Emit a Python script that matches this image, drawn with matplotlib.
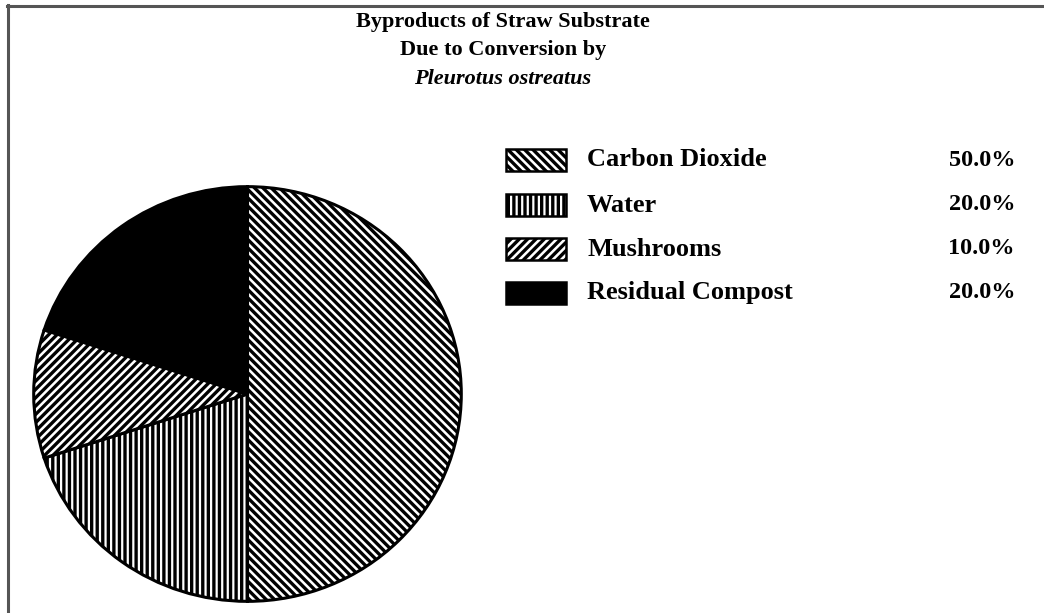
import matplotlib
matplotlib.use("Agg")
import matplotlib.pyplot as plt
from matplotlib.patches import Rectangle
from matplotlib.lines import Line2D

# ---- data ----
title_lines = ["Byproducts of Straw Substrate", "Due to Conversion by", "Pleurotus ostreatus"]
categories = ["Carbon Dioxide", "Water", "Mushrooms", "Residual Compost"]
values = [50.0, 20.0, 10.0, 20.0]

# ---- styles ----
hatches = ["\\\\\\\\", "|||", "////", ""]
facecolors = ["white", "white", "white", "black"]

plt.rcParams["hatch.linewidth"] = 2.4
plt.rcParams["hatch.color"] = "black"
SERIF = ["Liberation Serif", "DejaVu Serif"]

W, H = 1044, 613
fig = plt.figure(figsize=(W / 100, H / 100), dpi=100)
fig.patch.set_facecolor("white")

# pie axes (slightly elliptical like the reference)
cx, cy, rx, ry = 247.5, 394, 215.5, 209
ax = fig.add_axes([(cx - rx) / W, 1 - (cy + ry) / H, 2 * rx / W, 2 * ry / H])
wedges, _ = ax.pie(values, startangle=90, counterclock=False, radius=1.0,
                   colors=facecolors, hatch=hatches,
                   wedgeprops=dict(edgecolor="black", linewidth=2.2))
ax.set_aspect("auto")
ax.set_xlim(-1.008, 1.008)
ax.set_ylim(-1.008, 1.008)
ax.axis("off")

# overlay axes in pixel coordinates for title, legend and frame
ov = fig.add_axes([0, 0, 1, 1], zorder=-1)
ov.set_xlim(0, W)
ov.set_ylim(H, 0)
ov.axis("off")

# frame lines (top and left)
ov.add_line(Line2D([7, W], [5.5, 5.5], color="#555555", lw=2.2))
ov.add_line(Line2D([7.5, 7.5], [5, H], color="#555555", lw=2.2))

# title
ty = [22, 50, 79]
for i, (t, y) in enumerate(zip(title_lines, ty)):
    ov.text(503, y, t, ha="center", va="center", fontsize=16,
            fontweight="bold", fontstyle="italic" if i == 2 else "normal",
            family=SERIF)

# legend
total = sum(values)
row_y = [160, 205, 249, 293]
for cat, v, h, fc, y in zip(categories, values, hatches, facecolors, row_y):
    r = Rectangle((506, y - 11), 60, 22, facecolor=fc, edgecolor="black",
                  hatch=h, linewidth=1.8)
    ov.add_patch(r)
    ov.text(587, y, cat, ha="left", va="center", fontsize=19,
            fontweight="bold", family=SERIF)
    ov.text(1015, y, f"{v / total * 100:.1f}%", ha="right", va="center",
            fontsize=17.5, fontweight="bold", family=SERIF)

fig.savefig("out.png", dpi=100)
